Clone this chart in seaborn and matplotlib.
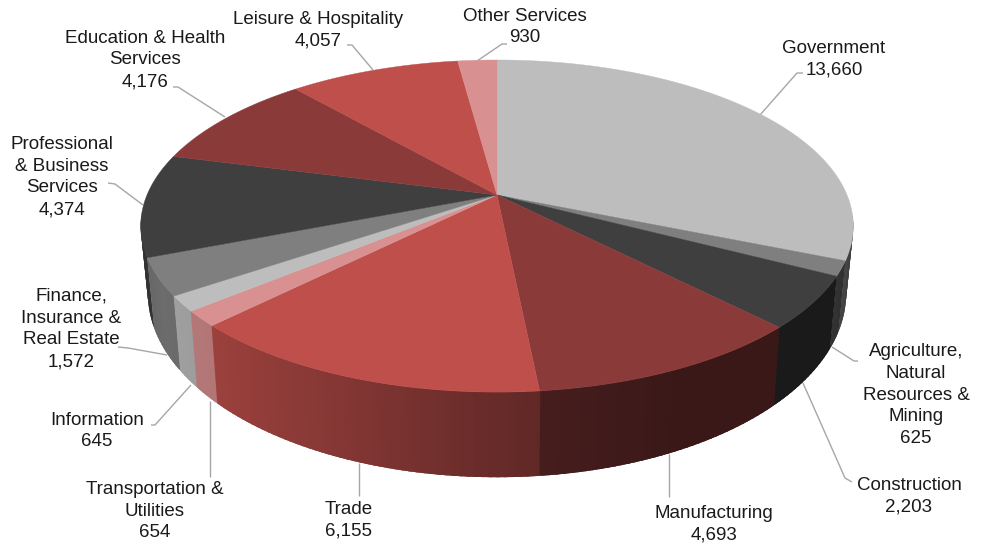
import numpy as np
import matplotlib
matplotlib.use("Agg")
import matplotlib.pyplot as plt
from matplotlib.collections import PolyCollection
import seaborn as sns

# ---- data ----
sectors = ["Government", "Agriculture,\nNatural\nResources &\nMining", "Construction",
           "Manufacturing", "Trade", "Transportation &\nUtilities", "Information",
           "Finance,\nInsurance &\nReal Estate", "Professional\n& Business\nServices",
           "Education & Health\nServices", "Leisure & Hospitality", "Other Services"]
jobs = [13660, 625, 2203, 4693, 6155, 654, 645, 1572, 4374, 4176, 4057, 930]
slice_colors = ["#BDBDBD", "#7F7F7F", "#3F3F3F", "#8B3A3A", "#BE4F4B", "#D99090",
                "#BDBDBD", "#7F7F7F", "#3F3F3F", "#8B3A3A", "#BE4F4B", "#D99090"]

# ---- layout ----
label_xy = [(834, 59), (916, 395), (909, 496), (714, 524), (349, 520), (155, 511),
            (97, 431), (71, 329), (62, 177), (145, 60), (318, 30), (525, 27)]
leaders = [
    [(803, 73), (797, 73), (760, 115)],
    [(858, 361), (854, 361), (832, 347)],
    [(852, 482), (845, 478), (803, 383)],
    [(669, 497), (669, 454)],
    [(359, 496), (359, 463)],
    [(210, 477), (210, 401)],
    [(151, 425), (155, 425), (191, 385)],
    [(118, 347), (128, 348), (167, 355)],
    [(108, 183), (115, 184), (143, 205)],
    [(173, 87), (178, 87), (225, 117)],
    [(347, 45), (352, 45), (373, 70)],
    [(507, 44), (502, 44), (477, 61)],
]
CX, KX, KX_LOW = 497.0, 350.0, 343.0
CY, AY = 195.0, 123.8
CY_LOW, AY_LOW = 259.0, 129.0
PERSP = 0.187
WALL_FROM, WALL_TO = 97.0, 263.0
# wall brightness versus clockwise angle
shade_deg = [0, 95, 105, 117, 125, 155, 174, 190, 205, 224, 240, 255, 268, 360]
shade_val = [.3, .3, .32, .4, .42, .42, .5, .62, .72, .82, .85, .78, .75, .75]


def top_xy(deg):
    t = np.radians(deg)
    u, v = np.sin(t), np.cos(t)
    d = PERSP * v + 1
    return CX + KX * u / d, (CY - AY * v) / d


def low_xy(deg):
    t = np.radians(deg)
    u, v = np.sin(t), np.cos(t)
    d = PERSP * v + 1
    return CX + KX_LOW * u / d, (CY_LOW - AY_LOW * v) / d


sns.set_theme(style="white")
plt.rcParams["font.family"] = ["Liberation Sans", "DejaVu Sans"]
palette = sns.color_palette(slice_colors)

fig, ax = plt.subplots(figsize=(9.85, 5.44), dpi=100)
ax.set_position([0, 0, 1, 1])
ax.set_xlim(0, 985)
ax.set_ylim(544, 0)
ax.axis("off")

edges = np.concatenate([[0], np.cumsum(jobs)]) / np.sum(jobs) * 360.0

# side wall, thin overlapping strips, far strips first
strips, strip_cols, depth = [], [], []
for i, col in enumerate(palette):
    lo, hi = max(edges[i], WALL_FROM), min(edges[i + 1], WALL_TO)
    if hi <= lo:
        continue
    n = max(2, int(hi - lo))
    a = np.linspace(lo, hi, n + 1)
    for a0, a1 in zip(a[:-1], a[1:]):
        # overlap inside a slice hides seams; at slice borders stay almost exact
        p0 = a0 - 0.1 if a0 == lo else a0 - 0.7
        p1 = a1 + 0.1 if a1 == hi else a1 + 0.7
        strips.append([top_xy(p0), top_xy(p1), low_xy(p1), low_xy(p0)])
        s = np.interp((a0 + a1) / 2, shade_deg, shade_val)
        strip_cols.append(tuple(np.array(col) * s))
        depth.append(np.cos(np.radians((a0 + a1) / 2)))
order = np.argsort(depth)[::-1]
ax.add_collection(PolyCollection([strips[k] for k in order],
                                 facecolors=[strip_cols[k] for k in order],
                                 edgecolors="none", linewidths=0, zorder=2))

# top face
for i, col in enumerate(palette):
    a = np.linspace(edges[i], edges[i + 1], max(3, int(edges[i + 1] - edges[i]) * 2))
    x, y = top_xy(a)
    ax.fill(np.r_[CX, x], np.r_[CY, y], color=col, lw=0.3, zorder=3)

# leaders and labels
for pts in leaders:
    xs, ys = zip(*pts)
    ax.plot(xs, ys, color="#A6A6A6", lw=1.0, zorder=1, solid_capstyle="butt")
for name, val, (x, y) in zip(sectors, jobs, label_xy):
    ax.text(x, y, f"{name}\n{val:,}", ha="center", va="center", fontsize=13.5,
            color="#1A1A1A", linespacing=1.36, zorder=5)

fig.savefig("out.png", dpi=100, facecolor="white")
